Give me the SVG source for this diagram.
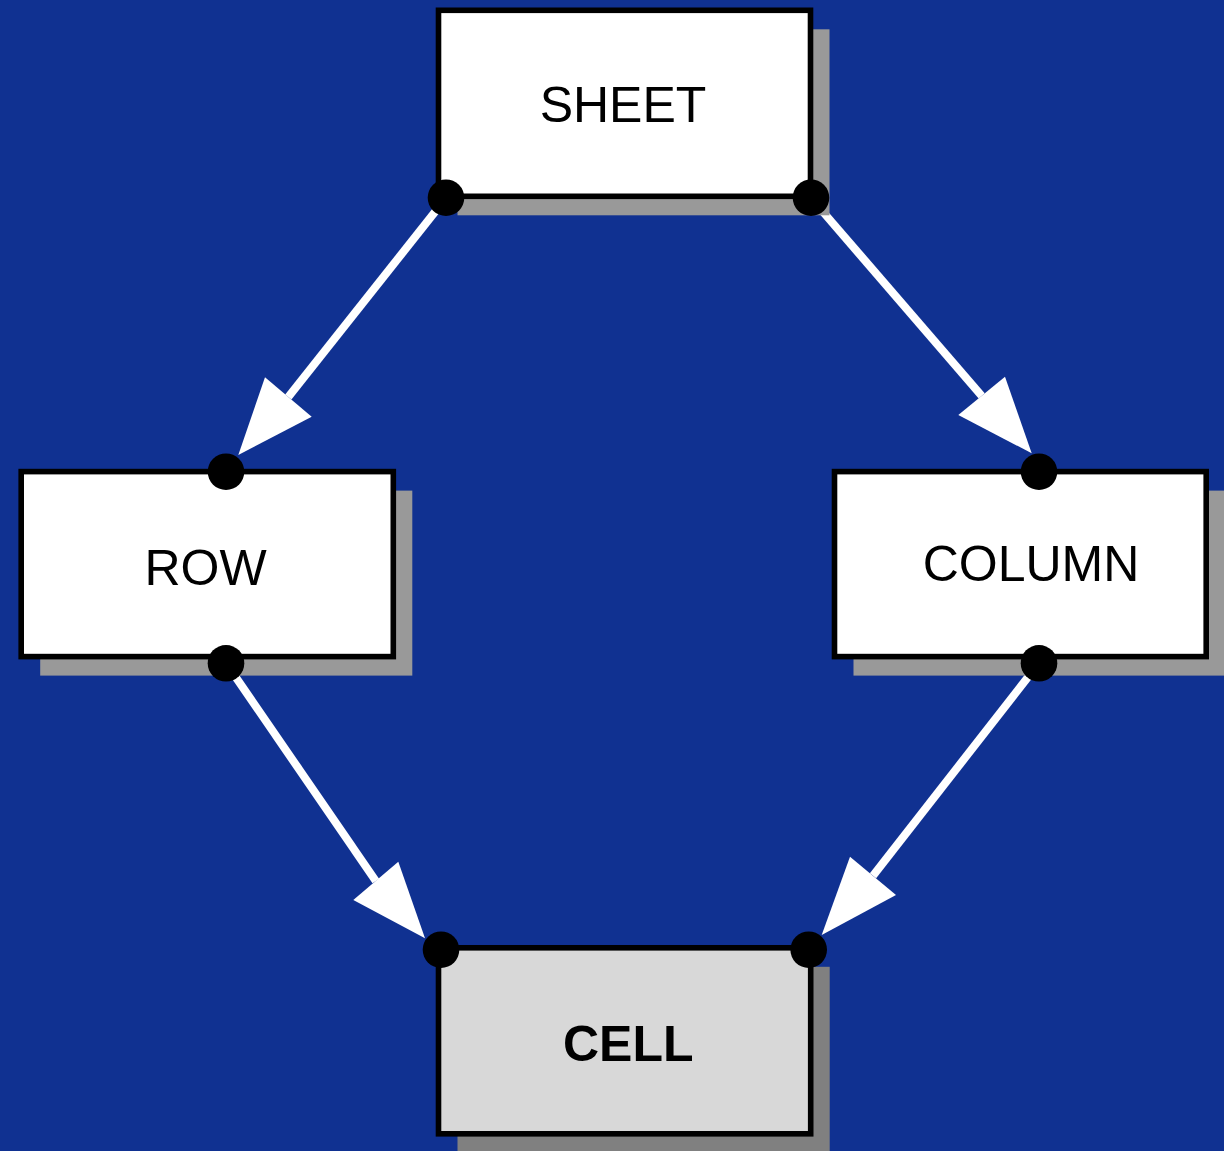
<svg xmlns="http://www.w3.org/2000/svg" width="1224" height="1151" viewBox="0 0 1224 1151">
  <style>
    .bg { fill: #103191; }
    .shadow { fill: #999999; }
    .shadow.dark { fill: #808080; }
    .box { fill: #ffffff; stroke: #000000; stroke-width: 5.6; }
    .box.cell { fill: #d8d8d8; }
    .label { font-family: "Liberation Sans", Arial, sans-serif; font-size: 50px; fill: #000000; text-anchor: middle; }
    .label.bold { font-weight: bold; }
    .port { fill: #000000; }
    .edge { stroke: #ffffff; stroke-width: 8; fill: none; }
    .head { fill: #ffffff; }
  </style>

  <rect class="bg" x="0" y="0" width="1224" height="1151"/>

  <!-- connectors: shaft + arrowhead -->
  <g id="connectors">
    <g id="sheet-row">
      <line class="edge" x1="446" y1="198" x2="288.3" y2="397"/>
      <polygon class="head" points="265,377.3 311.7,416.7 238.3,455"/>
    </g>
    <g id="sheet-column">
      <line class="edge" x1="811" y1="198" x2="981.7" y2="395.8"/>
      <polygon class="head" points="1005,376.7 958.3,415 1031.7,453.3"/>
    </g>
    <g id="row-cell">
      <line class="edge" x1="226" y1="663" x2="375.8" y2="880.9"/>
      <polygon class="head" points="353.3,900 398.3,861.7 425,938.3"/>
    </g>
    <g id="column-cell">
      <line class="edge" x1="1039" y1="663" x2="873" y2="875.8"/>
      <polygon class="head" points="850,856.7 896,895 821.7,935"/>
    </g>
  </g>

  <g id="node-sheet">
    <rect class="shadow" x="457.5" y="29.3" width="372" height="186"/>
    <rect class="box" x="438.5" y="10.3" width="372" height="186"/>
    <text class="label" x="623" y="121.7">SHEET</text>
    <circle class="port" cx="446" cy="197.7" r="18.3"/>
    <circle class="port" cx="811" cy="197.7" r="18.3"/>
  </g>

  <g id="node-row">
    <rect class="shadow" x="40.2" y="490.6" width="372.1" height="185"/>
    <rect class="box" x="21.2" y="471.6" width="372.1" height="185"/>
    <text class="label" x="205.5" y="585">ROW</text>
    <circle class="port" cx="226" cy="471.7" r="18.3"/>
    <circle class="port" cx="226" cy="663.3" r="18.3"/>
  </g>

  <g id="node-column">
    <rect class="shadow" x="853.5" y="490.6" width="371.7" height="185"/>
    <rect class="box" x="834.5" y="471.6" width="371.7" height="185"/>
    <text class="label" x="1031" y="581">COLUMN</text>
    <circle class="port" cx="1039" cy="471.7" r="18.3"/>
    <circle class="port" cx="1039" cy="663.3" r="18.3"/>
  </g>

  <g id="node-cell">
    <rect class="shadow dark" x="457.5" y="966.8" width="372.2" height="186"/>
    <rect class="box cell" x="438.5" y="947.8" width="372.2" height="186"/>
    <text class="label bold" x="628.3" y="1060.7">CELL</text>
    <circle class="port" cx="441" cy="949.7" r="18.3"/>
    <circle class="port" cx="808.7" cy="949.7" r="18.3"/>
  </g>
</svg>
